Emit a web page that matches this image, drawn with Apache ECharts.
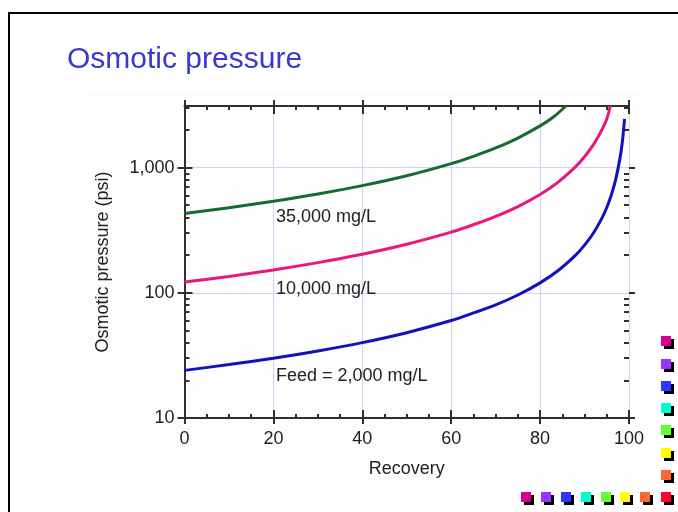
<!DOCTYPE html>
<html>
<head>
<meta charset="utf-8">
<script src="https://cdn.jsdelivr.net/npm/echarts@6/dist/echarts.min.js"></script>
<style>html,body{margin:0;padding:0;background:#fff}#c{width:678px;height:512px}</style>
</head>
<body>
<div id="c"></div>
<script>
// ---- data ----
var title = 'Osmotic pressure';
var xName = 'Recovery';
var yName = 'Osmotic pressure (psi)';
var xTicks = [0, 20, 40, 60, 80, 100];
var yMajorTicks = [10, 100, 1000];
var yMinorTicks = [20, 30, 40, 50, 60, 70, 80, 90, 200, 300, 400, 500, 600, 700, 800, 900, 2000, 3000];

var feedRecovery = [0, 10, 20, 30, 40, 50, 60, 65, 70, 75, 80, 84, 88, 90, 92, 94, 95, 96, 97, 98, 98.5, 99];
var feedPressure = [24, 26.7, 30, 34.3, 40, 48, 60, 69, 80, 96, 120, 150, 200, 240, 300, 400, 480, 600, 800, 1200, 1600, 2450];

var tenKRecovery = [0, 10, 20, 30, 40, 50, 60, 65, 70, 75, 80, 84, 88, 90, 92, 94, 95, 95.8];
var tenKPressure = [122, 135, 152, 174, 203, 244, 305, 349, 407, 488, 610, 762, 1017, 1220, 1525, 2033, 2440, 3100];

var thirtyFiveKRecovery = [0, 10, 20, 30, 40, 50, 60, 65, 70, 75, 80, 83, 85.8];
var thirtyFiveKPressure = [430, 478, 538, 614, 717, 860, 1075, 1229, 1433, 1720, 2150, 2530, 3100];

var seriesNames = ['35,000 mg/L', '10,000 mg/L', 'Feed = 2,000 mg/L'];
var seriesColors = ['#176a30', '#e8187c', '#1212bc'];
var decoColors = ['#d4008f', '#9933ff', '#3333ff', '#00ffcc', '#66ff33', '#ffff00', '#ff6633', '#ff0033'];

function pairs(xs, ys) { return xs.map(function (x, i) { return [x, ys[i]]; }); }
function fmt(v) { v = Math.round(v); return String(v).replace(/\B(?=(\d{3})+(?!\d))/g, ','); }

var FONT = '"Liberation Sans", Arial, sans-serif';
var AX = '#303030';
var GRIDC = '#d2d2f2';
var YMIN = 10, YMAX = 3100;

function xAx(pos, inside, len, opts) {
  var a = {
    type: 'value', position: pos, min: 0, max: 100, interval: 20,
    axisLine: { show: false }, axisLabel: { show: false }, splitLine: { show: false },
    axisTick: { show: true, inside: inside, length: len, lineStyle: { color: AX, width: 2 } },
    minorTick: { show: false }
  };
  return Object.assign(a, opts || {});
}
function yAx(pos, inside, len, vals, opts) {
  var a = {
    type: 'log', logBase: 10, position: pos, min: YMIN, max: YMAX,
    axisLine: { show: false }, axisLabel: { show: false }, splitLine: { show: false },
    axisTick: { show: true, inside: inside, length: len, customValues: vals, lineStyle: { color: AX, width: 2 } }
  };
  return Object.assign(a, opts || {});
}

var xAxes = [
  xAx('bottom', true, 8, {
    axisLine: { show: true, lineStyle: { color: AX, width: 2 } },
    minorTick: { show: true, splitNumber: 4, length: 4, lineStyle: { color: AX, width: 2 } },
    splitLine: { show: true, lineStyle: { color: GRIDC, width: 1 } },
    axisLabel: { show: true, fontSize: 18, fontFamily: FONT, color: '#222', margin: 12, customValues: xTicks },
    name: xName, nameLocation: 'middle', nameGap: 42,
    nameTextStyle: { fontSize: 18, fontFamily: FONT, color: '#222' }
  }),
  xAx('bottom', false, 6),
  xAx('top', true, 8, {
    axisLine: { show: true, lineStyle: { color: AX, width: 2 } },
    minorTick: { show: true, splitNumber: 4, length: 4, lineStyle: { color: AX, width: 2 } }
  }),
  xAx('top', false, 6)
];

var yAxes = [
  yAx('left', true, 8, yMajorTicks, {
    axisLine: { show: true, lineStyle: { color: AX, width: 2 } },
    splitLine: { show: true, lineStyle: { color: GRIDC, width: 1 } },
    axisLabel: { show: true, customValues: yMajorTicks, fontSize: 18, fontFamily: FONT, color: '#222', margin: 10, formatter: fmt },
    name: yName, nameLocation: 'middle', nameGap: 72, nameRotate: 90,
    nameTextStyle: { fontSize: 18, fontFamily: FONT, color: '#222' }
  }),
  yAx('left', false, 5, yMajorTicks),
  yAx('left', true, 5, yMinorTicks),
  yAx('right', true, 7, yMajorTicks, { axisLine: { show: true, lineStyle: { color: AX, width: 2 } } }),
  yAx('right', false, 6, yMajorTicks),
  yAx('right', true, 5, yMinorTicks)
];

var data = [
  pairs(thirtyFiveKRecovery, thirtyFiveKPressure),
  pairs(tenKRecovery, tenKPressure),
  pairs(feedRecovery, feedPressure)
];

var series = data.map(function (d, i) {
  return {
    type: 'line', name: seriesNames[i], data: d, xAxisIndex: 0, yAxisIndex: 0,
    symbol: 'none', smooth: 0.3, clip: true, z: 5,
    lineStyle: { color: seriesColors[i], width: 3 }
  };
});

var graphics = [
  { type: 'rect', shape: { x: 88, y: 92, width: 554, height: 393 }, style: { fill: '#fdfdfd' }, z: -10 },
  { type: 'line', shape: { x1: 8, y1: 13, x2: 678, y2: 13 }, style: { stroke: '#000', lineWidth: 2 } },
  { type: 'line', shape: { x1: 9, y1: 12, x2: 9, y2: 512 }, style: { stroke: '#000', lineWidth: 2 } },
  { type: 'text', x: 67, y: 60, style: { text: title, fontSize: 30, fontFamily: FONT, fill: '#3838d4', verticalAlign: 'middle' } },
  { type: 'text', x: 276, y: 217, style: { text: seriesNames[0], fontSize: 18, fontFamily: FONT, fill: '#222', verticalAlign: 'middle' }, z: 10 },
  { type: 'text', x: 276, y: 289, style: { text: seriesNames[1], fontSize: 18, fontFamily: FONT, fill: '#222', verticalAlign: 'middle' }, z: 10 },
  { type: 'text', x: 276, y: 376, style: { text: seriesNames[2], fontSize: 18, fontFamily: FONT, fill: '#222', verticalAlign: 'middle' }, z: 10 }
];
// decorative squares (slide template)
var colY = [336, 359, 381, 403, 425, 448, 470];
colY.forEach(function (y, i) {
  graphics.push({ type: 'rect', shape: { x: 664, y: y + 3, width: 10, height: 10 }, style: { fill: '#000' } });
  graphics.push({ type: 'rect', shape: { x: 661, y: y, width: 10, height: 10 }, style: { fill: decoColors[i] } });
});
var rowX = [521, 541, 561, 581, 601, 620, 640, 661];
rowX.forEach(function (x, i) {
  graphics.push({ type: 'rect', shape: { x: x + 3, y: 495, width: 10, height: 10 }, style: { fill: '#000' } });
  graphics.push({ type: 'rect', shape: { x: x, y: 492, width: 10, height: 10 }, style: { fill: decoColors[i] } });
});

var chart = echarts.init(document.getElementById('c'), null, { renderer: 'canvas' });
chart.setOption({
  animation: false,
  backgroundColor: '#ffffff',
  grid: { left: 184.5, right: 49, top: 106, bottom: 94, containLabel: false },
  xAxis: xAxes,
  yAxis: yAxes,
  series: series,
  graphic: graphics
});
</script>
</body>
</html>
